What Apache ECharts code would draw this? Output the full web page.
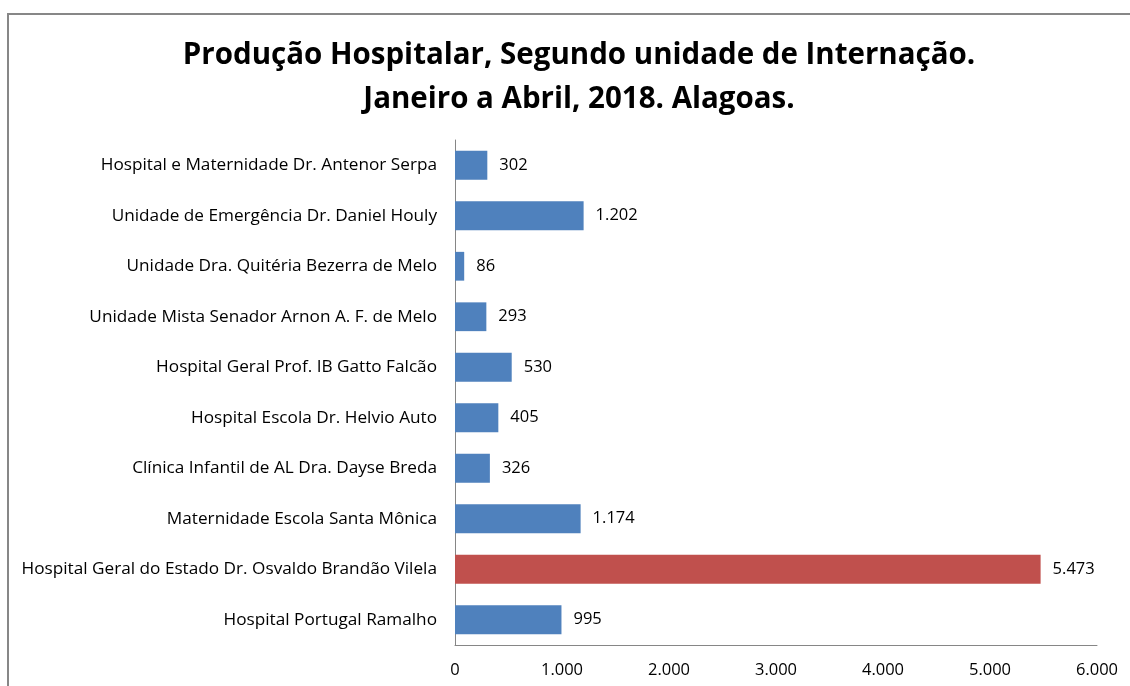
<!DOCTYPE html>
<html>
<head>
<meta charset="utf-8">
<script src="https://cdn.jsdelivr.net/npm/echarts@6/dist/echarts.min.js"></script>
<style>
html,body{margin:0;padding:0;background:#fff;}
#c{width:1130px;height:686px;}
</style>
</head>
<body>
<div id="c"></div>
<script>
var categories = [
  "Hospital e Maternidade Dr. Antenor Serpa",
  "Unidade de Emergência Dr. Daniel Houly",
  "Unidade Dra. Quitéria Bezerra de Melo",
  "Unidade Mista Senador Arnon A. F. de Melo",
  "Hospital Geral Prof. IB Gatto Falcão",
  "Hospital Escola Dr. Helvio Auto",
  "Clínica Infantil de AL Dra. Dayse Breda",
  "Maternidade Escola Santa Mônica",
  "Hospital Geral do Estado Dr. Osvaldo Brandão Vilela",
  "Hospital Portugal Ramalho"
];
var values = [302, 1202, 86, 293, 530, 405, 326, 1174, 5473, 995];
var highlightIndex = [8];
var xTicks = [0, 1000, 2000, 3000, 4000, 5000, 6000];

function fmt(v){ return String(v).replace(/\B(?=(\d{3})+(?!\d))/g, '.'); }

var font = 'Open Sans';
var chart = echarts.init(document.getElementById('c'));
chart.setOption({
  animation: false,
  title: {
    text: 'Produção Hospitalar, Segundo unidade de Internação.\nJaneiro a Abril, 2018. Alagoas.',
    left: 574,
    textAlign: 'center',
    top: 29,
    textStyle: { fontFamily: font, fontWeight: 'bold', fontSize: 29.5, lineHeight: 44, color: '#000' }
  },
  graphic: [{
    type: 'rect', silent: true,
    shape: { x: 8, y: 14, width: 1300, height: 900 },
    style: { fill: 'none', stroke: '#878787', lineWidth: 2 }
  }],
  grid: { left: 455, right: 33, top: 140, bottom: 41, containLabel: false },
  xAxis: {
    type: 'value', min: 0, max: 6000, interval: 1000,
    axisLine: { show: true, lineStyle: { color: '#868686' } },
    axisTick: { show: false },
    splitLine: { show: false },
    axisLabel: {
      margin: 17, fontFamily: font, fontSize: 16.5, color: '#000',
      customValues: xTicks,
      formatter: function(v){ return fmt(v); }
    }
  },
  yAxis: {
    type: 'category', data: categories, inverse: true,
    axisLine: { show: true, lineStyle: { color: '#868686' } },
    axisTick: { show: false },
    axisLabel: { margin: 18, fontFamily: font, fontSize: 17.2, color: '#000' }
  },
  series: [{
    type: 'bar',
    barWidth: '57%',
    data: values.map(function(v, i){
      return { value: v, itemStyle: { color: highlightIndex.indexOf(i) >= 0 ? '#C0504D' : '#4F81BD' } };
    }),
    label: {
      show: true, position: 'right', distance: 12,
      fontFamily: font, fontSize: 16.5, color: '#000',
      formatter: function(p){ return fmt(p.value); }
    }
  }]
});
</script>
</body>
</html>
